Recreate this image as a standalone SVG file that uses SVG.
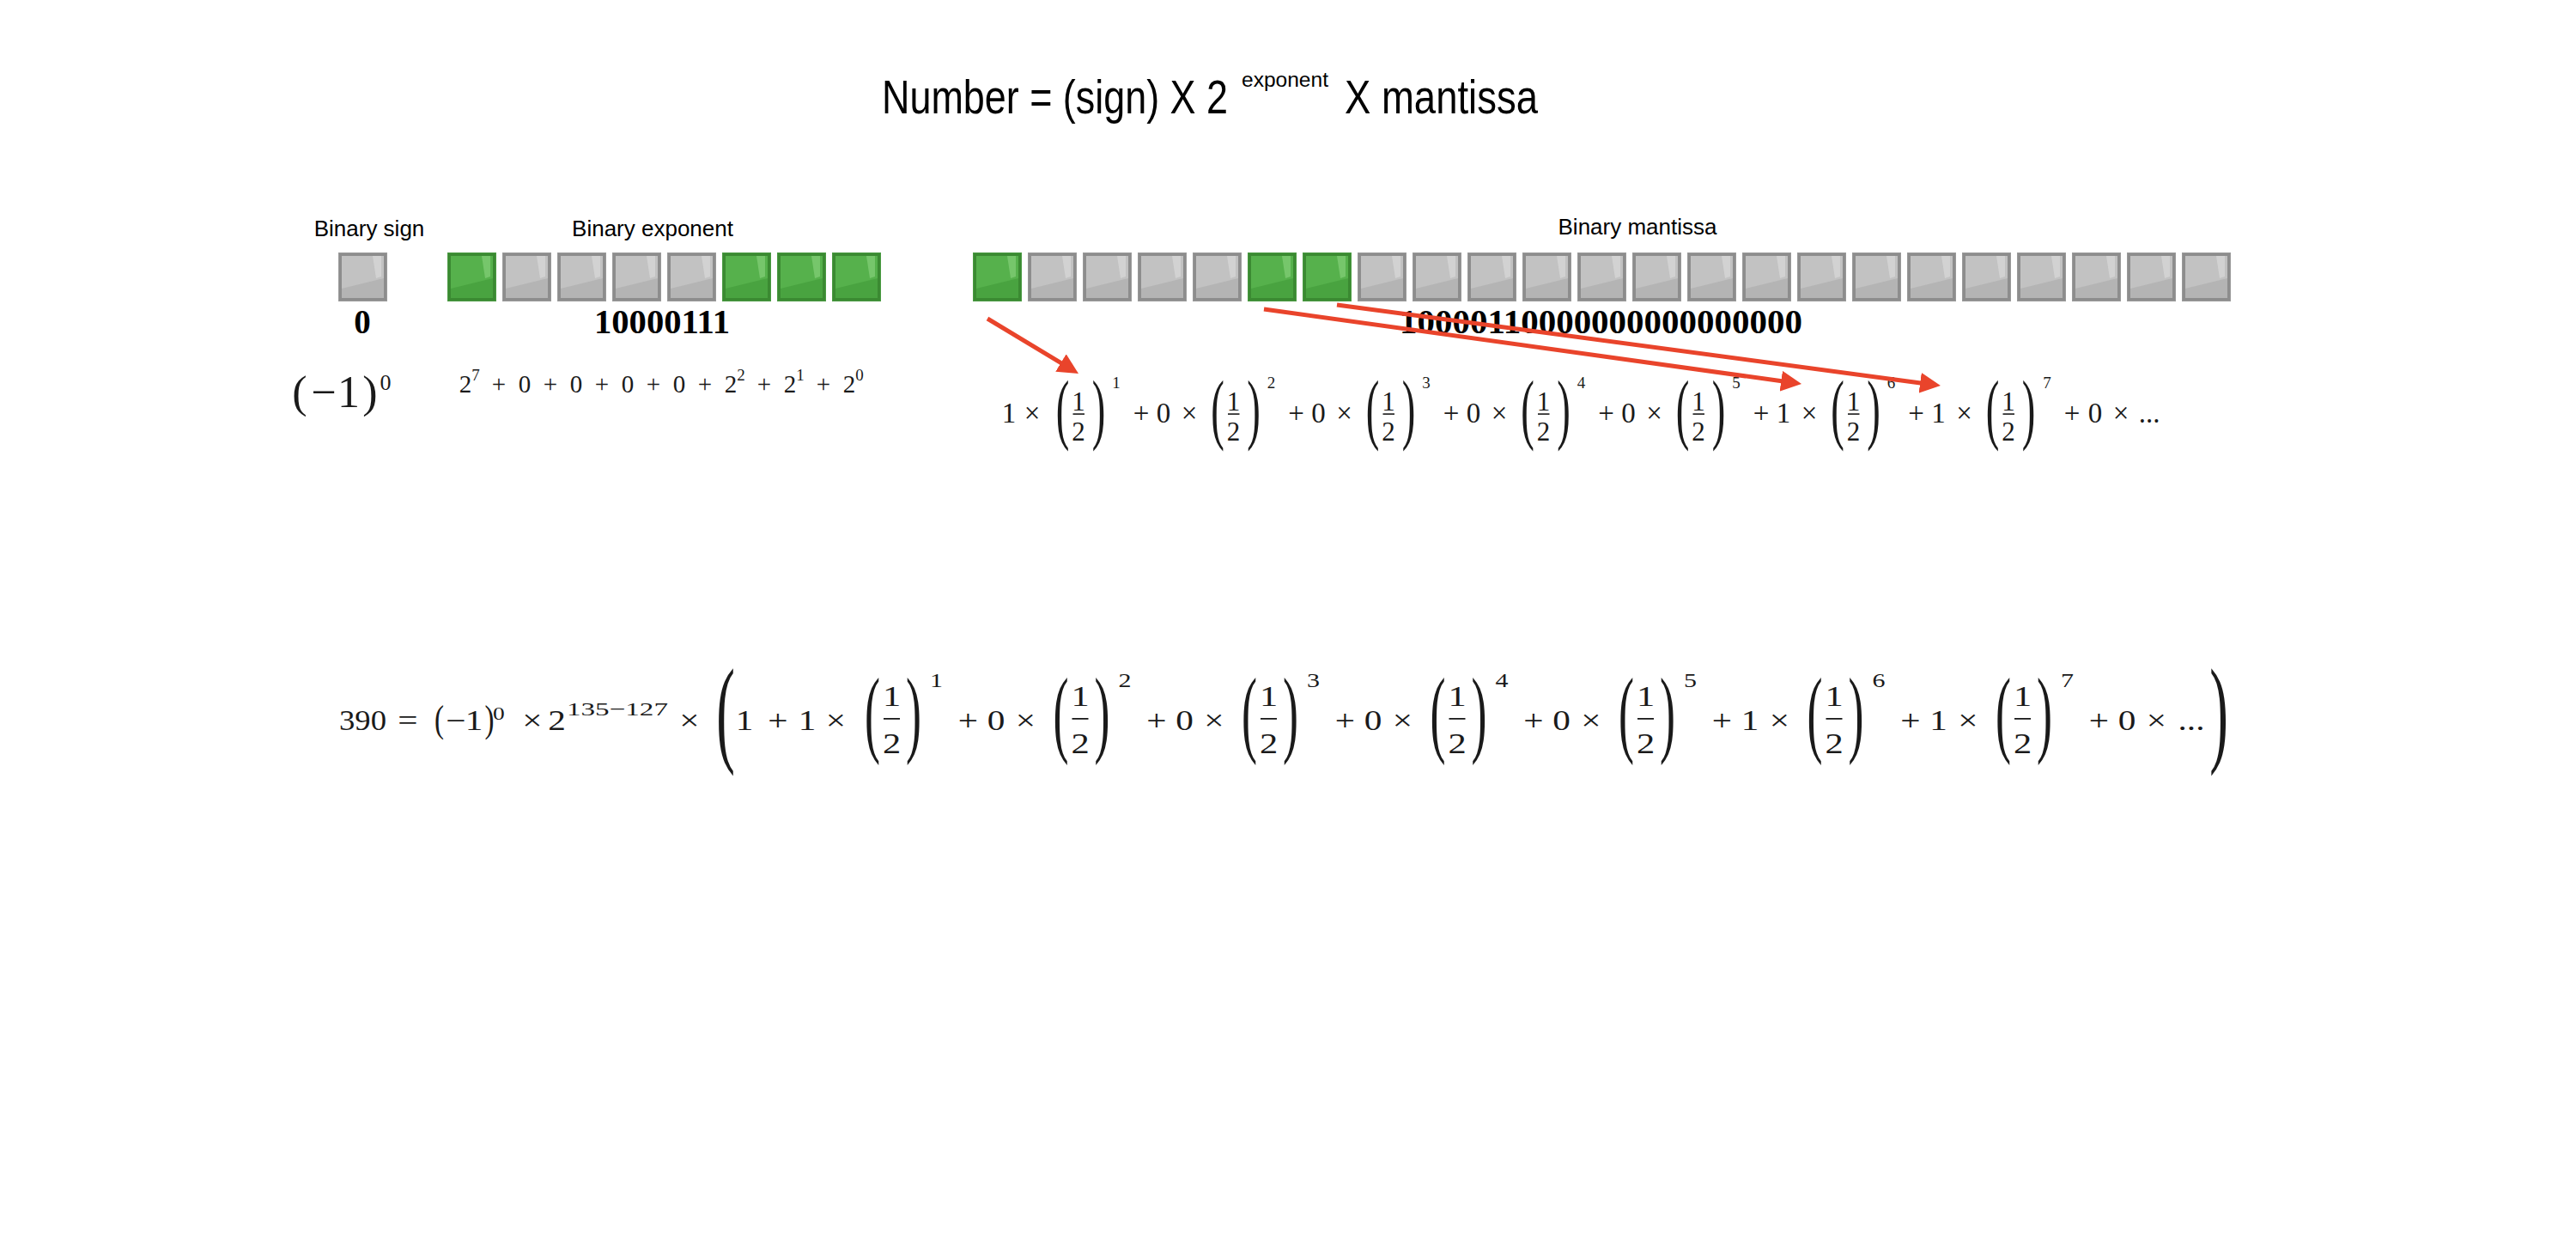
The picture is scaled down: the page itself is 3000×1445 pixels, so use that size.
<svg xmlns="http://www.w3.org/2000/svg" xmlns:xlink="http://www.w3.org/1999/xlink" width="3000" height="1445" viewBox="0 0 3000 1445">
<style>
.sans{font-family:"Liberation Sans",Arial,sans-serif;fill:#000}
.bits{font-family:"Liberation Serif","Times New Roman",serif;font-weight:bold;font-size:39px;fill:#000}
.m{font-family:"Liberation Serif","Times New Roman",serif;fill:#1a1a1a;text-anchor:middle}
.t{font-size:33px}.tf{font-size:31px}.ts{font-size:19px}.tp{font-size:36px}
.e{font-size:29px}.es{font-size:19px}
.b{font-size:33px}.bf{font-size:34px}.bs{font-size:24px}.bp{font-size:40px}
.bar{fill:#1a1a1a}
.arrow{stroke:#E9442B;stroke-width:5;fill:none;marker-end:url(#ah)}
</style>
<defs>
<marker id="ah" viewBox="0 0 24 24" refX="8" refY="12" markerWidth="24" markerHeight="24" markerUnits="userSpaceOnUse" orient="auto">
<path d="M0,0 L24,12 L0,24 z" fill="#E9442B"/>
</marker>
<g id="boxG">
<rect width="57" height="57" fill="#8d8d8d"/>
<rect x="4" y="4" width="49" height="49" fill="#b4b4b4"/>
<polygon points="4,4 53,4 53,30 4,42" fill="#c2c2c2"/>
<polygon points="40,4 50,4 50,28 44,30" fill="#d2d2d2"/>
<rect x="0.5" y="0.5" width="56" height="56" fill="none" stroke="#9a9a9a" stroke-width="1"/>
</g>
<g id="boxV">
<rect width="57" height="57" fill="#3b8a32"/>
<rect x="4" y="4" width="49" height="49" fill="#49a340"/>
<polygon points="4,4 53,4 53,30 4,42" fill="#56b14c"/>
<polygon points="40,4 50,4 50,28 44,30" fill="#76c66b"/>
<rect x="0.5" y="0.5" width="56" height="56" fill="none" stroke="#4a9a42" stroke-width="1"/>
</g>
</defs>
<rect width="3000" height="1445" fill="#fff"/>

<g id="title">
<text class="sans" x="1027" y="132" font-size="55" textLength="403" lengthAdjust="spacingAndGlyphs">Number = (sign) X 2</text>
<text class="sans" x="1446" y="101" font-size="24" textLength="101" lengthAdjust="spacingAndGlyphs">exponent</text>
<text class="sans" x="1566" y="132" font-size="55" textLength="225" lengthAdjust="spacingAndGlyphs">X mantissa</text>
</g>

<g id="sign-field">
<text class="sans" x="430" y="275" font-size="26" text-anchor="middle">Binary sign</text>
<use xlink:href="#boxG" x="394" y="294"/>
<text class="bits" x="422" y="388" text-anchor="middle">0</text>
</g>

<g id="exponent-field">
<text class="sans" x="760" y="275" font-size="26" text-anchor="middle">Binary exponent</text>
<use xlink:href="#boxV" x="521" y="294"/>
<use xlink:href="#boxG" x="585" y="294"/>
<use xlink:href="#boxG" x="649" y="294"/>
<use xlink:href="#boxG" x="713" y="294"/>
<use xlink:href="#boxG" x="777" y="294"/>
<use xlink:href="#boxV" x="841" y="294"/>
<use xlink:href="#boxV" x="905" y="294"/>
<use xlink:href="#boxV" x="969" y="294"/>
<text class="bits" x="692" y="388" textLength="158" lengthAdjust="spacingAndGlyphs">10000111</text>
</g>

<g id="mantissa-field">
<text class="sans" x="1907" y="273" font-size="26" text-anchor="middle">Binary mantissa</text>
<use xlink:href="#boxV" x="1133" y="294"/>
<use xlink:href="#boxG" x="1197" y="294"/>
<use xlink:href="#boxG" x="1261" y="294"/>
<use xlink:href="#boxG" x="1325" y="294"/>
<use xlink:href="#boxG" x="1389" y="294"/>
<use xlink:href="#boxV" x="1453" y="294"/>
<use xlink:href="#boxV" x="1517" y="294"/>
<use xlink:href="#boxG" x="1581" y="294"/>
<use xlink:href="#boxG" x="1645" y="294"/>
<use xlink:href="#boxG" x="1709" y="294"/>
<use xlink:href="#boxG" x="1773" y="294"/>
<use xlink:href="#boxG" x="1837" y="294"/>
<use xlink:href="#boxG" x="1901" y="294"/>
<use xlink:href="#boxG" x="1965" y="294"/>
<use xlink:href="#boxG" x="2029" y="294"/>
<use xlink:href="#boxG" x="2093" y="294"/>
<use xlink:href="#boxG" x="2157" y="294"/>
<use xlink:href="#boxG" x="2221" y="294"/>
<use xlink:href="#boxG" x="2285" y="294"/>
<use xlink:href="#boxG" x="2349" y="294"/>
<use xlink:href="#boxG" x="2413" y="294"/>
<use xlink:href="#boxG" x="2477" y="294"/>
<use xlink:href="#boxG" x="2541" y="294"/>
<text class="bits" x="1630" y="388" textLength="469" lengthAdjust="spacingAndGlyphs">10000110000000000000000</text>
</g>

<g id="sign-formula">
<text class="m" x="349" y="474" font-size="52">(</text>
<text class="m" x="377" y="474" font-size="52">−</text>
<text class="m" x="406" y="474" font-size="52">1</text>
<text class="m" x="431" y="474" font-size="52">)</text>
<text class="m" x="449" y="454" font-size="26">0</text>
</g>

<g id="exponent-formula">
<text class="m e" x="542" y="457">2</text>
<text class="m es" x="554" y="443">7</text>
<text class="m e" x="581" y="457">+</text>
<text class="m e" x="611" y="457">0</text>
<text class="m e" x="641" y="457">+</text>
<text class="m e" x="671" y="457">0</text>
<text class="m e" x="701" y="457">+</text>
<text class="m e" x="731" y="457">0</text>
<text class="m e" x="761" y="457">+</text>
<text class="m e" x="791" y="457">0</text>
<text class="m e" x="821" y="457">+</text>
<text class="m e" x="851" y="457">2</text>
<text class="m es" x="863" y="443">2</text>
<text class="m e" x="890" y="457">+</text>
<text class="m e" x="920" y="457">2</text>
<text class="m es" x="932" y="443">1</text>
<text class="m e" x="959" y="457">+</text>
<text class="m e" x="989" y="457">2</text>
<text class="m es" x="1001" y="443">0</text>
</g>

<g id="mantissa-formula">
<text class="m t" x="1175" y="492">1</text>
<text class="m t" x="1202" y="492">×</text>
<text class="m tp" transform="translate(1237.5,506) scale(1.3,2.5)">(</text>
<text class="m tf" x="1256" y="478">1</text><rect class="bar" x="1249.5" y="481.3" width="13.5" height="1.6"/><text class="m tf" x="1256" y="513">2</text>
<text class="m tp" transform="translate(1279.5,506) scale(1.3,2.5)">)</text>
<text class="m ts" x="1300" y="452">1</text>
<text class="m t" x="1329" y="492">+</text><text class="m t" x="1355" y="492">0</text><text class="m t" x="1385" y="492">×</text>
<text class="m tp" transform="translate(1418,506) scale(1.3,2.5)">(</text>
<text class="m tf" x="1436.5" y="478">1</text><rect class="bar" x="1430" y="481.3" width="13.5" height="1.6"/><text class="m tf" x="1436.5" y="513">2</text>
<text class="m tp" transform="translate(1460,506) scale(1.3,2.5)">)</text>
<text class="m ts" x="1480.5" y="452">2</text>
<text class="m t" x="1509.5" y="492">+</text><text class="m t" x="1535.5" y="492">0</text><text class="m t" x="1565.5" y="492">×</text>
<text class="m tp" transform="translate(1598.5,506) scale(1.3,2.5)">(</text>
<text class="m tf" x="1617" y="478">1</text><rect class="bar" x="1610.5" y="481.3" width="13.5" height="1.6"/><text class="m tf" x="1617" y="513">2</text>
<text class="m tp" transform="translate(1640.5,506) scale(1.3,2.5)">)</text>
<text class="m ts" x="1661" y="452">3</text>
<text class="m t" x="1690" y="492">+</text><text class="m t" x="1716" y="492">0</text><text class="m t" x="1746" y="492">×</text>
<text class="m tp" transform="translate(1779,506) scale(1.3,2.5)">(</text>
<text class="m tf" x="1797.5" y="478">1</text><rect class="bar" x="1791" y="481.3" width="13.5" height="1.6"/><text class="m tf" x="1797.5" y="513">2</text>
<text class="m tp" transform="translate(1821,506) scale(1.3,2.5)">)</text>
<text class="m ts" x="1841.5" y="452">4</text>
<text class="m t" x="1870.5" y="492">+</text><text class="m t" x="1896.5" y="492">0</text><text class="m t" x="1926.5" y="492">×</text>
<text class="m tp" transform="translate(1959.5,506) scale(1.3,2.5)">(</text>
<text class="m tf" x="1978" y="478">1</text><rect class="bar" x="1971.5" y="481.3" width="13.5" height="1.6"/><text class="m tf" x="1978" y="513">2</text>
<text class="m tp" transform="translate(2001.5,506) scale(1.3,2.5)">)</text>
<text class="m ts" x="2022" y="452">5</text>
<text class="m t" x="2051" y="492">+</text><text class="m t" x="2077" y="492">1</text><text class="m t" x="2107" y="492">×</text>
<text class="m tp" transform="translate(2140,506) scale(1.3,2.5)">(</text>
<text class="m tf" x="2158.5" y="478">1</text><rect class="bar" x="2152" y="481.3" width="13.5" height="1.6"/><text class="m tf" x="2158.5" y="513">2</text>
<text class="m tp" transform="translate(2182,506) scale(1.3,2.5)">)</text>
<text class="m ts" x="2202.5" y="452">6</text>
<text class="m t" x="2231.5" y="492">+</text><text class="m t" x="2257.5" y="492">1</text><text class="m t" x="2287.5" y="492">×</text>
<text class="m tp" transform="translate(2320.5,506) scale(1.3,2.5)">(</text>
<text class="m tf" x="2339" y="478">1</text><rect class="bar" x="2332.5" y="481.3" width="13.5" height="1.6"/><text class="m tf" x="2339" y="513">2</text>
<text class="m tp" transform="translate(2362.5,506) scale(1.3,2.5)">)</text>
<text class="m ts" x="2384" y="452">7</text>
<text class="m t" x="2413" y="492">+</text><text class="m t" x="2440" y="492">0</text><text class="m t" x="2470" y="492">×</text>
<text class="m t" x="2503" y="492">...</text>
</g>

<g id="equation" transform="scale(1.25,1)">
<text class="m b" x="316" y="850" style="text-anchor:start" textLength="44" lengthAdjust="spacingAndGlyphs">390</text>
<text class="m b" x="380" y="850">=</text>
<text class="m b" transform="translate(409.2,852) scale(0.8,1.35)">(</text>
<text class="m b" x="424.8" y="850">−</text>
<text class="m b" x="441.6" y="850">1</text>
<text class="m b" transform="translate(456,852) scale(0.8,1.35)">)</text>
<text class="m" x="464.8" y="838" font-size="22">0</text>
<text class="m b" x="496" y="850">×</text>
<text class="m b" x="518.8" y="850">2</text>
<text class="m" x="528" y="833" font-size="22" style="text-anchor:start" textLength="94.4" lengthAdjust="spacingAndGlyphs">135−127</text>
<text class="m b" x="642.4" y="850">×</text>
<text class="m bp" transform="translate(676,873.6) scale(1.3,3.43)">(</text>
<text class="m b" x="693.6" y="850">1</text>
<text class="m b" x="724.8" y="850">+</text>
<text class="m b" x="752" y="850">1</text>
<text class="m b" x="778.8" y="850">×</text>
<text class="m bp" transform="translate(812.8,867.4) scale(1.08,2.79)">(</text>
<text class="m bf" x="830.8" y="822">1</text><rect class="bar" x="823.2" y="836" width="15.2" height="1.8"/><text class="m bf" x="830.8" y="877">2</text>
<text class="m bp" transform="translate(851.2,867.4) scale(1.08,2.79)">)</text>
<text class="m bs" x="872.4" y="800">1</text>
<text class="m b" x="902" y="850">+</text><text class="m b" x="928" y="850">0</text><text class="m b" x="955.6" y="850">×</text>
<text class="m bp" transform="translate(988.4,867.4) scale(1.08,2.79)">(</text>
<text class="m bf" x="1006.4" y="822">1</text><rect class="bar" x="998.8" y="836" width="15.2" height="1.8"/><text class="m bf" x="1006.4" y="877">2</text>
<text class="m bp" transform="translate(1026.8,867.4) scale(1.08,2.79)">)</text>
<text class="m bs" x="1048" y="800">2</text>
<text class="m b" x="1077.6" y="850">+</text><text class="m b" x="1103.6" y="850">0</text><text class="m b" x="1131.2" y="850">×</text>
<text class="m bp" transform="translate(1164,867.4) scale(1.08,2.79)">(</text>
<text class="m bf" x="1182" y="822">1</text><rect class="bar" x="1174.4" y="836" width="15.2" height="1.8"/><text class="m bf" x="1182" y="877">2</text>
<text class="m bp" transform="translate(1202.4,867.4) scale(1.08,2.79)">)</text>
<text class="m bs" x="1223.6" y="800">3</text>
<text class="m b" x="1253.2" y="850">+</text><text class="m b" x="1279.2" y="850">0</text><text class="m b" x="1306.8" y="850">×</text>
<text class="m bp" transform="translate(1339.6,867.4) scale(1.08,2.79)">(</text>
<text class="m bf" x="1357.6" y="822">1</text><rect class="bar" x="1350" y="836" width="15.2" height="1.8"/><text class="m bf" x="1357.6" y="877">2</text>
<text class="m bp" transform="translate(1378,867.4) scale(1.08,2.79)">)</text>
<text class="m bs" x="1399.2" y="800">4</text>
<text class="m b" x="1428.8" y="850">+</text><text class="m b" x="1454.8" y="850">0</text><text class="m b" x="1482.4" y="850">×</text>
<text class="m bp" transform="translate(1515.2,867.4) scale(1.08,2.79)">(</text>
<text class="m bf" x="1533.2" y="822">1</text><rect class="bar" x="1525.6" y="836" width="15.2" height="1.8"/><text class="m bf" x="1533.2" y="877">2</text>
<text class="m bp" transform="translate(1553.6,867.4) scale(1.08,2.79)">)</text>
<text class="m bs" x="1574.8" y="800">5</text>
<text class="m b" x="1604.4" y="850">+</text><text class="m b" x="1630.4" y="850">1</text><text class="m b" x="1658" y="850">×</text>
<text class="m bp" transform="translate(1690.8,867.4) scale(1.08,2.79)">(</text>
<text class="m bf" x="1708.8" y="822">1</text><rect class="bar" x="1701.2" y="836" width="15.2" height="1.8"/><text class="m bf" x="1708.8" y="877">2</text>
<text class="m bp" transform="translate(1729.2,867.4) scale(1.08,2.79)">)</text>
<text class="m bs" x="1750.4" y="800">6</text>
<text class="m b" x="1780" y="850">+</text><text class="m b" x="1806" y="850">1</text><text class="m b" x="1833.6" y="850">×</text>
<text class="m bp" transform="translate(1866.4,867.4) scale(1.08,2.79)">(</text>
<text class="m bf" x="1884.4" y="822">1</text><rect class="bar" x="1876.8" y="836" width="15.2" height="1.8"/><text class="m bf" x="1884.4" y="877">2</text>
<text class="m bp" transform="translate(1904.8,867.4) scale(1.08,2.79)">)</text>
<text class="m bs" x="1926" y="800">7</text>
<text class="m b" x="1955.6" y="850">+</text><text class="m b" x="1981.6" y="850">0</text><text class="m b" x="2009.2" y="850">×</text>
<text class="m b" x="2041.6" y="850">...</text>
<text class="m bp" transform="translate(2067.2,873.6) scale(1.3,3.43)">)</text>
</g>

<g id="connectors">
<line class="arrow" x1="1150" y1="371" x2="1242.3" y2="426.7"/>
<line class="arrow" x1="1472" y1="360" x2="2082.2" y2="444.8"/>
<line class="arrow" x1="1557" y1="355" x2="2244.1" y2="446.9"/>
</g>
</svg>
